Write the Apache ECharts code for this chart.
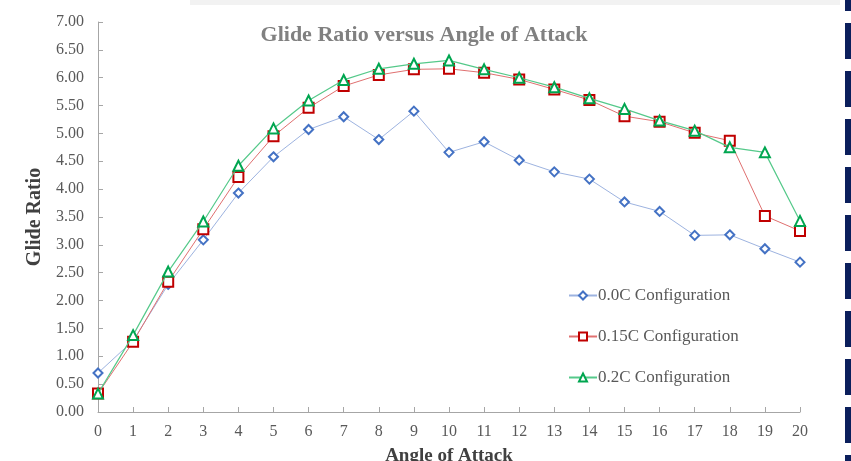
<!DOCTYPE html>
<html><head><meta charset="utf-8">
<script src="https://cdn.jsdelivr.net/npm/echarts@6/dist/echarts.min.js"></script>
<style>html,body{margin:0;padding:0;background:#fff;}#c{width:851px;height:461px;}</style>
</head><body><div id="c"></div>
<script>
const angles = [0,1,2,3,4,5,6,7,8,9,10,11,12,13,14,15,16,17,18,19,20];
const cfg00 = [0.70,1.28,2.29,3.09,3.93,4.58,5.07,5.30,4.89,5.40,4.66,4.85,4.52,4.31,4.18,3.77,3.60,3.17,3.18,2.93,2.69];
const cfg015 = [0.33,1.26,2.34,3.28,4.22,4.95,5.46,5.85,6.05,6.15,6.16,6.09,5.97,5.79,5.60,5.31,5.21,5.01,4.87,3.52,3.25];
const cfg02 = [0.33,1.38,2.52,3.42,4.42,5.09,5.59,5.96,6.16,6.25,6.31,6.15,6.00,5.83,5.63,5.44,5.23,5.05,4.75,4.66,3.43];
const seriesNames = ['0.0C Configuration','0.15C Configuration','0.2C Configuration'];
const title = 'Glide Ratio versus Angle of Attack';

const font = 'Liberation Serif, Times New Roman, serif';
const chart = echarts.init(document.getElementById('c'));
const pair = arr => arr.map((v,i)=>[angles[i], v]);

const navy = [];
for (let k = 0; k < 11; k++) {
  navy.push({type:'rect', shape:{x:845, y:-25 + 48*k, width:6, height:36}, style:{fill:'#0b1f5c'}, silent:true});
}
navy.push({type:'rect', shape:{x:190, y:0, width:650, height:5}, style:{fill:'#f2f2f2'}, silent:true});

chart.setOption({
  animation:false,
  backgroundColor:'#ffffff',
  title:{text:title, left:419, top:19, textAlign:'center',
    textStyle:{fontFamily:font, fontSize:22, fontWeight:'bold', color:'#808080'}},
  grid:{left:98, right:51, top:22, bottom:49, outerBoundsMode:'none', containLabel:false},
  legend:{orient:'vertical', left:563, top:282, itemGap:24, itemWidth:28, itemHeight:10,
    textStyle:{fontFamily:font, fontSize:17, color:'#595959', padding:[0,0,0,-4]},
    data:seriesNames},
  xAxis:{type:'value', min:0, max:20, interval:1,
    name:'Angle of Attack', nameLocation:'middle', nameGap:35,
    nameTextStyle:{fontFamily:font, fontSize:19, fontWeight:'bold', color:'#404040'},
    axisLine:{show:true, lineStyle:{color:'#a6a6a6', width:1}},
    axisTick:{show:true, inside:true, length:5, lineStyle:{color:'#a6a6a6'}},
    axisLabel:{fontFamily:font, fontSize:16, color:'#595959', margin:12},
    splitLine:{show:false}},
  yAxis:{type:'value', min:0, max:7, interval:0.5,
    name:'Glide Ratio', nameLocation:'middle', nameGap:43, nameRotate:90,
    nameTextStyle:{fontFamily:font, fontSize:20, fontWeight:'bold', color:'#404040'},
    axisLine:{show:true, lineStyle:{color:'#a6a6a6', width:1}},
    axisTick:{show:true, inside:true, length:5, lineStyle:{color:'#a6a6a6'}},
    axisLabel:{fontFamily:font, fontSize:16, color:'#595959', margin:14, formatter:v=>v.toFixed(2)},
    splitLine:{show:false}},
  series:[
    {name:seriesNames[0], type:'line', data:pair(cfg00), symbol:'diamond', symbolSize:9,
      itemStyle:{color:'#ffffff', borderColor:'#4472c4', borderWidth:2},
      lineStyle:{color:'#9db3e0', width:1}, z:3},
    {name:seriesNames[1], type:'line', data:pair(cfg015), symbol:'rect', symbolSize:10,
      itemStyle:{color:'#ffffff', borderColor:'#c00000', borderWidth:2},
      lineStyle:{color:'#e07070', width:1}, z:4},
    {name:seriesNames[2], type:'line', data:pair(cfg02), symbol:'triangle', symbolSize:10,
      itemStyle:{color:'#ffffff', borderColor:'#00a650', borderWidth:2},
      lineStyle:{color:'#55c98a', width:1.2}, z:5}
  ],
  graphic:navy
});
</script></body></html>
